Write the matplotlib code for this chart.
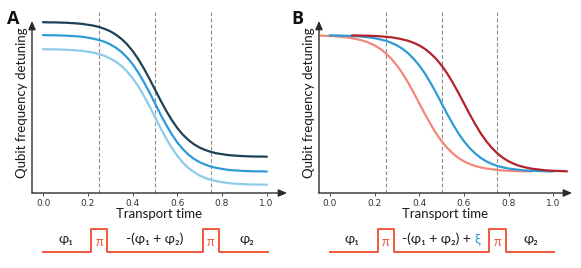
import matplotlib
matplotlib.use("Agg")
import matplotlib.pyplot as plt

# ---------------- data ----------------
x_A = [0.000, 0.025, 0.050, 0.075, 0.100, 0.125, 0.150, 0.175, 0.200, 0.225, 0.250,
       0.275, 0.300, 0.325, 0.350, 0.375, 0.400, 0.425, 0.450, 0.475, 0.500,
       0.525, 0.550, 0.575, 0.600, 0.625, 0.650, 0.675, 0.700, 0.725, 0.750,
       0.775, 0.800, 0.825, 0.850, 0.875, 0.900, 0.925, 0.950, 0.975, 1.000]
dark_A = [0.993, 0.992, 0.992, 0.991, 0.990, 0.988, 0.986, 0.983, 0.978, 0.973, 0.965,
          0.954, 0.940, 0.921, 0.896, 0.865, 0.826, 0.779, 0.725, 0.665, 0.602,
          0.539, 0.479, 0.425, 0.378, 0.339, 0.308, 0.283, 0.264, 0.250, 0.239,
          0.231, 0.226, 0.221, 0.218, 0.216, 0.214, 0.213, 0.212, 0.212, 0.211]
mid_A = [0.918, 0.917, 0.917, 0.916, 0.915, 0.913, 0.911, 0.908, 0.903, 0.897, 0.889,
         0.879, 0.864, 0.845, 0.820, 0.788, 0.749, 0.701, 0.646, 0.586, 0.522,
         0.457, 0.397, 0.342, 0.294, 0.255, 0.223, 0.198, 0.179, 0.165, 0.154,
         0.146, 0.140, 0.135, 0.132, 0.130, 0.128, 0.127, 0.126, 0.126, 0.125]
light_A = [0.836, 0.835, 0.835, 0.834, 0.833, 0.831, 0.829, 0.826, 0.821, 0.816, 0.807,
           0.797, 0.782, 0.763, 0.739, 0.707, 0.668, 0.621, 0.566, 0.506, 0.442,
           0.378, 0.318, 0.263, 0.216, 0.177, 0.145, 0.121, 0.102, 0.087, 0.077,
           0.069, 0.063, 0.058, 0.055, 0.053, 0.051, 0.050, 0.049, 0.049, 0.048]

x_salmon = [-0.040, 0.000, 0.025, 0.050, 0.075, 0.100, 0.125, 0.150, 0.175, 0.200,
            0.225, 0.250, 0.275, 0.300, 0.325, 0.350, 0.375, 0.400, 0.425, 0.450,
            0.475, 0.500, 0.525, 0.550, 0.575, 0.600, 0.625, 0.650, 0.675, 0.700,
            0.725, 0.750, 0.775, 0.800, 0.825, 0.850, 0.875, 0.900]
salmon_B = [0.915, 0.913, 0.911, 0.908, 0.905, 0.900, 0.893, 0.885, 0.873, 0.858,
            0.838, 0.812, 0.780, 0.741, 0.695, 0.641, 0.583, 0.521, 0.459, 0.401,
            0.347, 0.301, 0.262, 0.230, 0.204, 0.184, 0.169, 0.157, 0.149, 0.142,
            0.138, 0.134, 0.131, 0.129, 0.128, 0.127, 0.126, 0.126]
x_blue = [0.000, 0.025, 0.050, 0.075, 0.100, 0.125, 0.150, 0.175, 0.200, 0.225, 0.250,
          0.275, 0.300, 0.325, 0.350, 0.375, 0.400, 0.425, 0.450, 0.475, 0.500,
          0.525, 0.550, 0.575, 0.600, 0.625, 0.650, 0.675, 0.700, 0.725, 0.750,
          0.775, 0.800, 0.825, 0.850, 0.875, 0.900, 0.925, 0.950, 0.975, 1.000]
blue_B = [0.916, 0.916, 0.915, 0.914, 0.913, 0.911, 0.908, 0.905, 0.900, 0.893, 0.885,
          0.873, 0.858, 0.838, 0.812, 0.780, 0.741, 0.695, 0.641, 0.583, 0.521,
          0.459, 0.401, 0.347, 0.301, 0.262, 0.230, 0.204, 0.184, 0.169, 0.157,
          0.149, 0.142, 0.138, 0.134, 0.131, 0.129, 0.128, 0.127, 0.126, 0.126]
x_red = [0.100, 0.125, 0.150, 0.175, 0.200, 0.225, 0.250, 0.275, 0.300, 0.325,
         0.350, 0.375, 0.400, 0.425, 0.450, 0.475, 0.500, 0.525, 0.550, 0.575,
         0.600, 0.625, 0.650, 0.675, 0.700, 0.725, 0.750, 0.775, 0.800, 0.825,
         0.850, 0.875, 0.900, 0.925, 0.950, 0.975, 1.000, 1.025, 1.050, 1.060]
red_B = [0.916, 0.916, 0.915, 0.914, 0.913, 0.911, 0.908, 0.905, 0.900, 0.893,
         0.885, 0.873, 0.858, 0.838, 0.812, 0.780, 0.741, 0.695, 0.641, 0.583,
         0.521, 0.459, 0.401, 0.347, 0.301, 0.262, 0.230, 0.204, 0.184, 0.169,
         0.157, 0.149, 0.142, 0.138, 0.134, 0.131, 0.129, 0.128, 0.127, 0.126]

dashed_x = [0.25, 0.5, 0.75]
tick_vals = [0.0, 0.2, 0.4, 0.6, 0.8, 1.0]
tick_labels = ["0.0", "0.2", "0.4", "0.6", "0.8", "1.0"]

pulse_edges = [0.0, 0.213, 0.287, 0.713, 0.787, 1.005]
pulse_levels = [0, 1, 0, 1, 0, 0]
pulse_labels_A = ["φ₁", "π", "-(φ₁ + φ₂)", "π", "φ₂"]
pulse_label_x_A = [0.10, 0.25, 0.50, 0.75, 0.91]
pulse_labels_B = ["φ₁", "π", "-(φ₁ + φ₂) +", "π", "φ₂"]
pulse_label_x_B = [0.097, 0.25, 0.475, 0.75, 0.90]
xi_label = "ξ"

# ---------------- style ----------------
W, H = 581, 268
fig = plt.figure(figsize=(W / 100, H / 100), dpi=100)
LABEL_FONT = ["Lato", "DejaVu Sans"]
AX_COL = "#2b2b2b"
C_DARK = "#1d4257"
C_MID = "#2e9bd6"
C_LIGHT = "#8ecae9"
C_SALMON = "#f4877a"
C_RED = "#b3232b"
C_PULSE = "#f05a3c"


def px_axes(left, right, top, bottom):
    return fig.add_axes([left / W, 1 - bottom / H, (right - left) / W, (bottom - top) / H])


def panel(left_px, x0_px, x1_px, right_px, label, label_x):
    top_px, bottom_px = 12, 193
    ax = px_axes(left_px, right_px, top_px, bottom_px)
    unit = x1_px - x0_px
    xmin = (left_px - x0_px) / unit
    xmax = (right_px - x0_px) / unit
    ytop = (bottom_px - top_px) / (bottom_px - 21)
    ax.set_xlim(xmin, xmax)
    ax.set_ylim(0, ytop)
    for s in ax.spines.values():
        s.set_visible(False)
    ax.set_yticks([])
    ax.set_xticks(tick_vals)
    ax.set_xticklabels(tick_labels, fontsize=6.5, color="#333333")
    ax.tick_params(axis="x", length=2.5, width=0.6, color=AX_COL, pad=2)
    for dx in dashed_x:
        ax.plot([dx, dx], [0, ytop], color="#8c8c8c", lw=0.8, dashes=(3.5, 2))
    ax.annotate("", xy=(xmax, 0), xytext=(xmin, 0), xycoords="data",
                arrowprops=dict(arrowstyle="-|>,head_length=0.5,head_width=0.22",
                                color=AX_COL, lw=1.0, shrinkA=0, shrinkB=0), annotation_clip=False)
    ax.annotate("", xy=(xmin, 1.0), xytext=(xmin, 0), xycoords="data",
                arrowprops=dict(arrowstyle="-|>,head_length=0.5,head_width=0.22",
                                color=AX_COL, lw=1.0, shrinkA=0, shrinkB=0), annotation_clip=False)
    ax.set_xlabel("Transport time", fontsize=9.5, family=LABEL_FONT, color="#1a1a1a", labelpad=0)
    ax.set_ylabel("Qubit frequency detuning", fontsize=9.5, family=LABEL_FONT, color="#1a1a1a",
                  labelpad=3)
    fig.text(label_x / W, 1 - 19 / H, label, fontsize=13, fontweight="bold",
             family=["Open Sans", "DejaVu Sans"], va="center", ha="left", color="#111111")
    return ax


def pulse_axes(left_px, x0_px, x1_px, right_px):
    top_px, bottom_px = 220, 262
    ax = px_axes(left_px, right_px, top_px, bottom_px)
    unit = x1_px - x0_px
    ax.set_xlim((left_px - x0_px) / unit, (right_px - x0_px) / unit)
    base, high = 251.7, 228.5
    sc = base - high
    ax.set_ylim(-(bottom_px - base) / sc, (base - top_px) / sc)
    ax.axis("off")
    ax.step(pulse_edges, pulse_levels, where="post", color=C_PULSE, lw=1.4)
    return ax


def pulse_text(ax, lab, xx):
    is_pi = lab == "π"
    return ax.text(xx, 0.42 if is_pi else 0.55, lab, ha="center", va="center",
                   fontsize=9 if is_pi else 10, family=LABEL_FONT,
                   color=C_PULSE if is_pi else "#1a1a1a")


# Panel A
axA = panel(32, 43.3, 266.6, 287, "A", 7)
axA.plot(x_A, dark_A, color=C_DARK, lw=1.6)
axA.plot(x_A, mid_A, color=C_MID, lw=1.6)
axA.plot(x_A, light_A, color=C_LIGHT, lw=1.6)

# Panel B
axB = panel(319, 330, 553.3, 572, "B", 291)
axB.plot(x_salmon, salmon_B, color=C_SALMON, lw=1.6)
axB.plot(x_blue, blue_B, color=C_MID, lw=1.6)
axB.plot(x_red, red_B, color=C_RED, lw=1.6)

# Pulse sequences
pA = pulse_axes(32, 43.3, 266.6, 287)
for lab, xx in zip(pulse_labels_A, pulse_label_x_A):
    pulse_text(pA, lab, xx)

pB = pulse_axes(319, 330, 553.3, 572)
for lab, xx in zip(pulse_labels_B, pulse_label_x_B):
    t = pulse_text(pB, lab, xx)
    if lab.endswith("+"):
        pB.annotate(xi_label, xy=(1.0, 0.5), xycoords=t, xytext=(3, 0),
                    textcoords="offset points", ha="left", va="center",
                    fontsize=10, family=LABEL_FONT, color=C_MID)

fig.savefig("out.png", dpi=100)
